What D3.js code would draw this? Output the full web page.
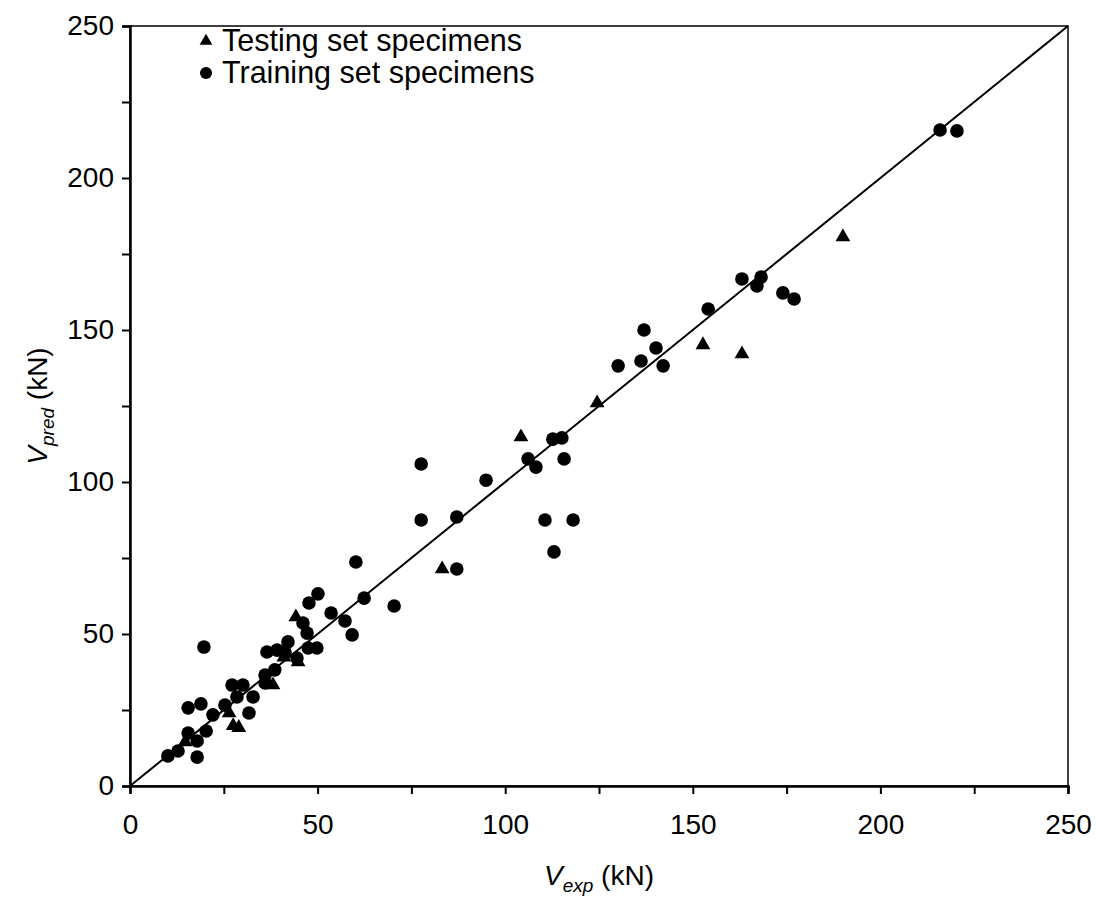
<!DOCTYPE html>
<html lang="en">
<head>
    <meta charset="UTF-8">
    <title>Vpred vs Vexp</title>
    <script src="https://d3js.org/d3.v7.min.js"></script>
    <style>
        body { margin: 0; background: #fff; }
        text { font-family: "Liberation Sans", Arial, sans-serif; fill: #000; }
    </style>
</head>
<body>
    <svg width="1096" height="911"></svg>

    <script>
        // testing set specimens [Vexp, Vpred]
        var testingSet = [
            [14.7, 14.5], [26.4, 24.0], [27.5, 19.8], [29.0, 19.2], [38.1, 33.2],
            [41.0, 42.4], [44.2, 55.6], [44.8, 40.8], [83.2, 71.4], [104.2, 114.8],
            [124.5, 126.0], [152.7, 145.1], [163.1, 142.1], [190.0, 180.6]
        ];

        // training set specimens [Vexp, Vpred]
        var trainingSet = [
            [10.1, 9.9], [12.8, 11.5], [15.5, 17.4], [17.9, 14.8], [17.9, 9.5],
            [15.5, 25.7], [18.9, 27.0], [19.7, 45.7], [20.3, 18.1], [22.1, 23.4],
            [25.3, 26.6], [27.2, 33.2], [28.5, 29.3], [30.1, 33.2], [31.7, 24.0],
            [32.8, 29.3], [36.0, 33.9], [36.0, 36.5], [38.6, 38.2], [36.5, 44.1],
            [39.2, 44.7], [41.3, 44.1], [42.1, 47.4], [44.5, 42.1], [46.1, 53.6],
            [47.2, 50.3], [47.5, 45.4], [49.8, 45.4], [47.7, 60.2], [50.1, 63.2],
            [53.6, 56.9], [57.3, 54.3], [59.2, 49.7], [60.2, 73.7], [62.4, 61.8],
            [70.4, 59.2], [77.6, 105.9], [77.6, 87.5], [87.1, 88.5], [87.1, 71.4],
            [94.9, 100.6], [106.1, 107.6], [108.2, 104.9], [110.6, 87.5], [112.7, 114.1],
            [113.0, 77.0], [115.1, 114.5], [115.7, 107.6], [118.1, 87.5], [130.1, 138.2],
            [136.2, 139.8], [137.0, 150.0], [140.2, 144.1], [142.1, 138.2], [154.1, 156.9],
            [163.1, 166.8], [167.1, 164.5], [168.2, 167.4], [174.0, 162.2], [177.0, 160.2],
            [215.9, 215.8], [220.4, 215.5]
        ];

        var axisTicks = d3.range(0, 251, 25);
        var axisLabels = [0, 50, 100, 150, 200, 250];
        var legendItems = ["Testing set specimens", "Training set specimens"];
    </script>

    <script>
        var svg = d3.select("svg");
        var pLeft = 130, pRight = 1068, pTop = 26, pBottom = 786;

        var x = d3.scaleLinear().domain([0, 250]).range([pLeft, pRight]);
        var y = d3.scaleLinear().domain([0, 250]).range([pBottom, pTop]);

        // frame: top and right thin
        svg.append("rect")
            .attr("x", pLeft).attr("y", pTop)
            .attr("width", pRight - pLeft).attr("height", pBottom - pTop)
            .attr("fill", "none").attr("stroke", "#000").attr("stroke-width", 1.5);

        var tickFmt = function(d) { return axisLabels.indexOf(d) >= 0 ? d : ""; };

        var xAxis = svg.append("g")
            .attr("transform", "translate(0," + pBottom + ")")
            .call(d3.axisBottom(x).tickValues(axisTicks).tickFormat(tickFmt).tickSize(8).tickPadding(20));
        var yAxis = svg.append("g")
            .attr("transform", "translate(" + pLeft + ",0)")
            .call(d3.axisLeft(y).tickValues(axisTicks).tickFormat(tickFmt).tickSize(8).tickPadding(8));

        [xAxis, yAxis].forEach(function(g) {
            g.select(".domain").attr("stroke-width", 2.5);
            g.selectAll(".tick line").attr("stroke-width", 2);
            g.selectAll(".tick text").attr("font-size", 28).attr("font-family", "Liberation Sans, Arial, sans-serif");
        });

        // 1:1 line
        svg.append("line")
            .attr("x1", x(0)).attr("y1", y(0))
            .attr("x2", x(250)).attr("y2", y(250))
            .attr("stroke", "#000").attr("stroke-width", 2);

        var tri = d3.symbol().type(d3.symbolTriangle).size(95);

        svg.append("g").selectAll("path")
            .data(testingSet)
            .enter().append("path")
              .attr("d", tri)
              .attr("transform", function(d) { return "translate(" + x(d[0]) + "," + y(d[1]) + ")"; })
              .attr("fill", "#000");

        svg.append("g").selectAll("circle")
            .data(trainingSet)
            .enter().append("circle")
              .attr("cx", function(d) { return x(d[0]); })
              .attr("cy", function(d) { return y(d[1]); })
              .attr("r", 6.8)
              .attr("fill", "#000");

        // legend
        var legend = svg.append("g");
        legend.append("path")
            .attr("d", d3.symbol().type(d3.symbolTriangle).size(70))
            .attr("transform", "translate(206,41)");
        legend.append("circle").attr("cx", 206).attr("cy", 73).attr("r", 6);
        legend.selectAll("text")
            .data(legendItems)
            .enter().append("text")
              .attr("x", 222)
              .attr("y", function(d, i) { return 51 + i * 32; })
              .attr("font-size", 30.5)
              .text(function(d) { return d; });

        // axis titles
        var xt = svg.append("text")
            .attr("x", x(125)).attr("y", 885)
            .attr("text-anchor", "middle")
            .attr("font-size", 28);
        xt.append("tspan").attr("font-style", "italic").text("V");
        xt.append("tspan").attr("font-style", "italic").attr("font-size", 19).attr("dy", 7).text("exp");
        xt.append("tspan").attr("dy", -7).text(" (kN)");

        var yt = svg.append("text")
            .attr("transform", "translate(47," + y(125) + ") rotate(-90)")
            .attr("text-anchor", "middle")
            .attr("font-size", 28);
        yt.append("tspan").attr("font-style", "italic").text("V");
        yt.append("tspan").attr("font-style", "italic").attr("font-size", 19).attr("dy", 7).text("pred");
        yt.append("tspan").attr("dy", -7).text(" (kN)");
    </script>
</body>
</html>
